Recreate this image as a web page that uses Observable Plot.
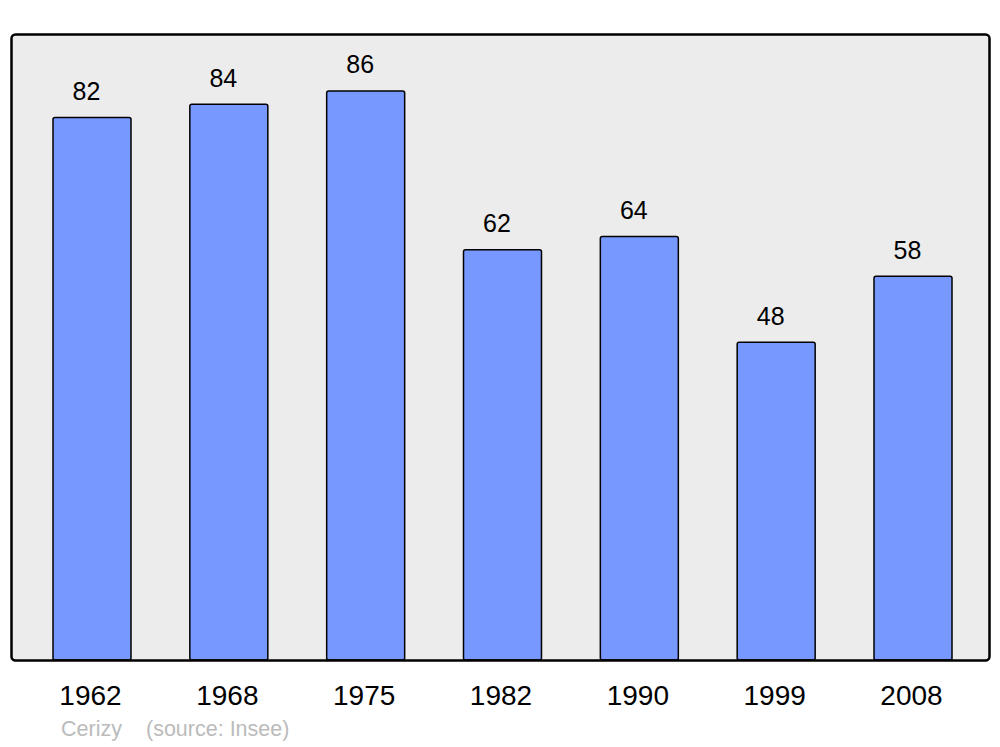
<!DOCTYPE html>
<html>
<head>
<meta charset="utf-8">
<script src="https://cdn.jsdelivr.net/npm/d3@7"></script>
<script src="https://cdn.jsdelivr.net/npm/@observablehq/plot@0.6"></script>
<style>
  html, body { margin: 0; padding: 0; background: #ffffff; }
  body { width: 1000px; height: 747px; overflow: hidden; font-family: "Liberation Sans", Arial, sans-serif; }
  #caption { position: relative; height: 35px; font-size: 21.5px; color: #bbbbbb; }
  #caption span { position: absolute; top: 5px; white-space: nowrap; }
</style>
</head>
<body>
<div id="chart"></div>
<div id="caption"><span id="c1" style="left:61px">Cerizy</span><span id="c2" style="left:146px">(source: Insee)</span></div>
<script>
const years = ["1962", "1968", "1975", "1982", "1990", "1999", "2008"];
const population = [82, 84, 86, 62, 64, 48, 58];
const commune = "Cerizy";
const source = "(source: Insee)";

const data = years.map((y, i) => ({year: y, value: population[i]}));
const yMax = d3.max(population) * 1.1;

const chart = Plot.plot({
  width: 1000,
  height: 712,
  marginTop: 34,
  marginBottom: 52,
  marginLeft: 11,
  marginRight: 11,
  style: {fontFamily: "'Liberation Sans', Arial, sans-serif", background: "#ffffff"},
  x: {domain: years, range: [53, 952], paddingInner: 0.43, paddingOuter: 0, round: false, label: null},
  y: {domain: [0, yMax], axis: null},
  marks: [
    Plot.frame({fill: "#ececec", stroke: "none", rx: 4}),
    Plot.barY(data, {x: "year", y: "value", fill: "#7799ff", stroke: "#000000", strokeWidth: 1.5, rx: 2}),
    Plot.text(data, {x: "year", y: "value", text: d => String(d.value), lineAnchor: "bottom", dy: -18, dx: -6, fontSize: 25, fill: "#000000"}),
    Plot.frame({fill: "none", stroke: "#000000", strokeWidth: 2.5, rx: 4}),
    Plot.axisX({tickSize: 0, tickPadding: 25, fontSize: 28, dx: -2, fill: "#000000", label: null})
  ]
});
document.getElementById("chart").appendChild(chart);
document.getElementById("c1").textContent = commune;
document.getElementById("c2").textContent = source;
</script>
</body>
</html>
